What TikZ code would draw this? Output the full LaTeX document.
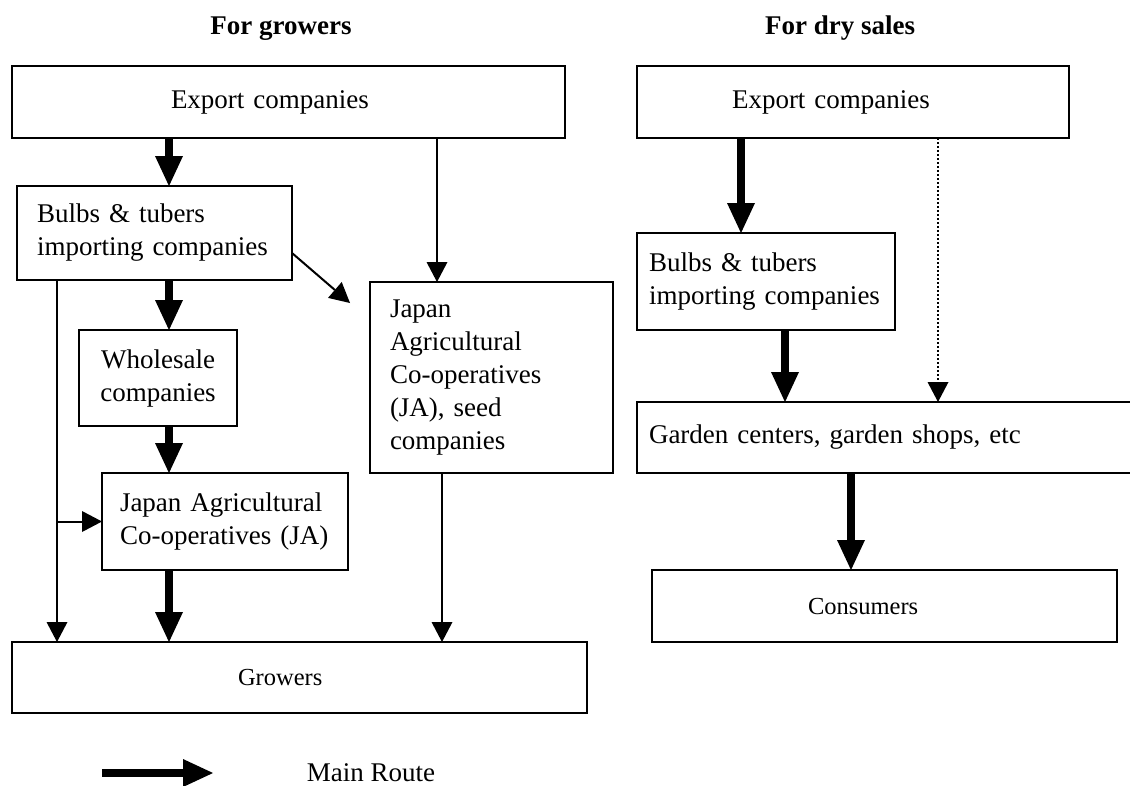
\documentclass[tikz,border=0pt]{standalone}
\usepackage{fontspec}
\setmainfont{Liberation Serif}
\usetikzlibrary{arrows.meta}

\tikzset{
  box/.style={draw, line width=1.6pt, anchor=north west, outer sep=0pt, inner ysep=0pt,
    align=left, font=\fontsize{27}{33}\selectfont},
  small/.style={font=\fontsize{24.5}{30}\selectfont},
  headline/.style={font=\bfseries\fontsize{27}{33}\selectfont},
  mainroute/.style={line width=8pt, -{Triangle[width=28pt,length=30pt,line width=0pt]}},
  sideroute/.style={line width=2pt, -{Triangle[width=21pt,length=20pt,line width=0pt]}},
}

\begin{document}
\begin{tikzpicture}[x=1pt, y=-1pt]
	\clip (0,0) rectangle (1130,785);
	% titles
	\node[headline] (titleG) at (281,29) {For growers};
	\node[headline] (titleD) at (840,28) {For dry sales};
	% for growers
	\node[box, inner xsep=159pt, text width=235pt, minimum height=72pt] (expG) at (12,66) {Export companies};
	\node[box, inner xsep=20pt, text width=235pt, minimum height=94pt] (bulbsG) at (17,186) {Bulbs \& tubers\\importing companies};
	\node[box, align=center, inner xsep=10pt, text width=138pt, minimum height=96pt] (whole) at (79,330) {Wholesale\\companies};
	\node[box, inner xsep=18pt, text width=210pt, minimum height=97pt] (JAmain) at (102,473) {Japan Agricultural\\Co-operatives (JA)};
	\node[box, inner xsep=20pt, text width=203pt, minimum height=191pt] (JAseed) at (370,282) {Japan\\Agricultural\\Co-operatives\\(JA), seed\\companies};
	\node[box, small, inner xsep=226pt, text width=123pt, minimum height=71pt] (growers) at (12,642) {Growers};
	% for dry sales
	\node[box, inner xsep=95pt, text width=242pt, minimum height=72pt] (expD) at (637,66) {Export companies};
	\node[box, inner xsep=12pt, text width=234pt, minimum height=97pt] (bulbsD) at (637,233) {Bulbs \& tubers\\importing companies};
	\node[box, inner xsep=12pt, text width=479pt, minimum height=71pt] (garden) at (637,402) {Garden centers, garden shops, etc};
	\node[box, small, inner xsep=156pt, text width=153pt, minimum height=72pt] (consumers) at (652,570) {Consumers};
	% columns of the connectors
	\coordinate (colG) at (169,0);
	\coordinate (sideG) at (57,0);
	\coordinate (seedTop) at (437,0);
	\coordinate (seedBot) at (442,0);
	\coordinate (diagEnd) at (350,303);
	\coordinate (colD1) at (741,0);
	\coordinate (colD2) at (785,0);
	\coordinate (colD3) at (851,0);
	\coordinate (dotD) at (938,0);
	% routes for growers
	\draw[mainroute] (expG.south -| colG) -- (bulbsG.north -| colG);
	\draw[mainroute] (bulbsG.south -| colG) -- (whole.north -| colG);
	\draw[mainroute] (whole.south -| colG) -- (JAmain.north -| colG);
	\draw[mainroute] (JAmain.south -| colG) -- (growers.north -| colG);
	\draw[sideroute] (expG.south -| seedTop) -- (JAseed.north -| seedTop);
	\draw[sideroute] (JAseed.south -| seedBot) -- (growers.north -| seedBot);
	\draw[sideroute] (bulbsG.south -| sideG) -- (growers.north -| sideG);
	\draw[sideroute] (JAmain.west -| sideG) -- (JAmain.west);
	\draw[sideroute] ([yshift=-20pt]bulbsG.east) -- (diagEnd);
	% routes for dry sales
	\draw[mainroute] (expD.south -| colD1) -- (bulbsD.north -| colD1);
	\draw[mainroute] (bulbsD.south -| colD2) -- (garden.north -| colD2);
	\draw[mainroute] (garden.south -| colD3) -- (consumers.north -| colD3);
	\draw[sideroute, dotted, line width=1.5pt] (expD.south -| dotD) -- (garden.north -| dotD);
	% legend
	\coordinate (legA) at (102,773);
	\coordinate (legB) at (213,773);
	\draw[mainroute] (legA) -- (legB);
	\node[font=\fontsize{27}{33}\selectfont, anchor=base] (legText) at (371,781) {Main Route};
\end{tikzpicture}
\end{document}
